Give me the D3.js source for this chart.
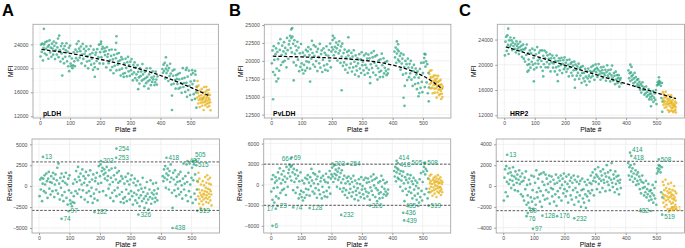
<!DOCTYPE html>
<html lang="en">
<head>
<meta charset="UTF-8">
<title>MFI by plate and residuals</title>
<script src="https://d3js.org/d3.v7.min.js"></script>
<style>
  body { margin: 0; background: #fff; }
  svg { font-family: "Liberation Sans", Arial, sans-serif; }
  .tick text { fill: #4d4d4d; font-size: 5.2px; font-family: "Liberation Sans", Arial, sans-serif; }
  .tick line { stroke: #333; stroke-width: 0.5; }
  .axis-title { font-size: 6.8px; fill: #000; }
  .flag { font-size: 6.4px; }
</style>
</head>
<body>
<svg id="fig" width="685" height="248"></svg>
<script>
// residuals are in thousands, one value per plate from plate 2 in steps of 2 (null = no plate)
const platesFrom = 2, plateStep = 2;

const residA = [
  -1.2, 0.8, -0.4, 1.0, -1.8, 0.3, 0.9, -0.6, 1.3, 0.2,
  -0.8, 1.5, 0.6, -1.4, 0.9, 1.7, -0.3, 0.5, -1.0, 1.2,
  0.4, -0.6, 1.6, 0.9, -1.3, 0.2, 1.4, -0.5, 0.7, 2.2,
  -0.9, 2.7, 0.3, -1.6, 1.0, -0.2, 1.5, -1.1, 0.6, -1.8,
  1.1, -0.7, 0.4, 1.6, -1.4, 0.2, -2.2, 0.9, -0.5, 1.3,
  -1.7, -2.1, -0.8, -2.4, -1.9, 0.3, -1.2, -2.0, 0.8, -0.6,
  1.8, 0.5, -0.9, 2.3, 1.1, -0.4, 0.7, 1.5, -1.3, 0.2,
  2.0, -0.5, 1.2, 0.4, -1.6, 0.9, 1.7, -0.8, 0.1, -1.9,
  1.3, -0.6, 0.5, 1.9, -1.2, -0.2, 0.8, -2.0, 1.4, -0.9,
  -1.5, 0.6, 1.0, -0.4, 1.6, -1.7, 0.3, 2.4, -0.7, 1.2,
  2.6, 0.4, 1.8, 2.2, -0.6, 1.4, 2.0, 0.9, 1.6, -1.1,
  2.3, 0.7, 1.2, -0.3, 1.9, 0.2, -1.4, 1.0, 2.1, -0.8,
  0.5, -1.8, 1.3, -0.5, 2.2, 0.8, -1.2, 1.6, -0.2, 0.4,
  1.8, -1.0, 0.6, -1.9, 1.2, -0.7, 0.9, -1.5, -2.0, 0.3,
  -1.3, 1.1, -0.4, -1.8, 0.6, 1.5, -0.9, 0.2, -1.6, 0.8,
  -0.6, 1.3, -1.2, -2.2, 0.4, -0.8, 0.9, -1.7, 0.1, -1.0,
  -2.0, 0.6, -0.5, -1.4, -2.4, 0.2, -1.1, -0.3, -1.8, 1.0,
  -0.7, -1.5, -2.6, -0.2, -1.2, -2.0, 0.5, -0.9, -1.6, -2.8,
  -0.4, -1.3, 0.7, -2.1, -0.8, -1.5, 0.3, -1.0, -0.5, -1.9,
  -1.4, 0.4, -0.9, -1.7, -0.3, null, null, null, null, null,
  null, null, 1.2, 0.6, 2.0, 1.0, 2.4, -0.2, 1.5, 0.8,
  2.1, 1.3, -0.4, 1.8, 0.5, 2.6, 1.0, -0.8, -2.6, 1.6,
  0.8, -0.5, 1.9, 0.2, -1.2, 1.1, 0.5, -0.3, 1.4, -1.0,
  0.6, 1.7, -0.7, 0.1, -1.5, 0.9, 2.7, -0.4, 0.3, 1.2,
  -1.1, 2.6, 0.5, -1.8, 1.6, -0.6, 2.7, 0.2, -1.3, 1.0,
  2.2, -2.0, 0.7, 2.6, -0.9, 1.4, -1.6, 2.5, -0.4, 0.6
];
const residB = [
  -1.0, 0.8, -2.2, 1.4, -0.5, -2.6, 0.3, 1.1, -1.7, 0.6,
  -0.4, 1.8, -2.0, 0.9, 2.4, -1.2, 0.2, 1.5, -0.8, 0.7,
  2.0, -0.6, 1.2, 0.4, -1.5, 2.6, 0.9, -0.3, 1.7, 2.2,
  2.9, 1.2, 2.6, 0.6, 2.8, 1.8, -0.8, 2.3, 0.4, 1.5,
  -1.2, 0.9, 2.1, -0.4, 1.3, -2.0, 0.5, -1.4, 1.8, -0.9,
  -1.8, 0.6, -2.3, -1.1, 0.2, -1.9, 1.0, -0.6, -1.5, 0.8,
  1.4, -0.7, 0.3, -1.6, 1.1, -0.2, 2.3, 0.6, -1.0, 1.7,
  0.2, -1.3, 1.5, -0.5, 0.8, -1.9, 1.2, 0.1, -0.8, 1.9,
  -1.4, 0.5, 1.0, -2.0, -0.3, 1.3, -1.1, 0.7, -1.7, 0.4,
  1.6, -0.9, -1.8, 0.3, 1.1, -0.4, 2.0, -1.3, 0.9, 1.5,
  2.5, 1.2, 0.4, 2.8, 1.6, 0.9, 2.2, 1.4, -0.3, 1.9,
  0.7, 2.4, 1.1, -0.6, 1.7, 0.3, 2.1, -1.0, 0.8, -0.5,
  1.3, -1.5, 0.2, -0.8, 1.0, -1.9, 0.5, 1.2, -1.2, 0.1,
  -0.6, 0.9, -1.7, 0.4, -1.1, 1.3, -0.3, -2.1, 0.6, -0.9,
  -1.5, 0.2, -0.5, -2.3, 0.8, -1.2, 0.1, -1.8, 1.1, -0.7,
  -0.2, -1.4, 0.7, -2.0, -0.6, 1.0, -1.0, 0.3, -1.7, 0.9,
  -1.2, 0.4, -2.2, -0.4, 1.2, -0.9, 0.6, -1.5, 1.5, -0.1,
  0.8, -1.8, -0.5, 1.0, -2.4, -0.8, 0.3, -1.3, -2.0, 0.5,
  -1.1, 1.3, -0.3, -1.9, 0.7, -1.4, -0.6, 0.2, -1.0, -1.6,
  0.4, -1.3, -0.7, null, null, null, null, null, null, null,
  null, null, 2.0, 1.2, 2.6, 0.5, 1.8, 2.4, 1.0, 2.2,
  0.8, 1.6, -0.3, 2.0, 0.6, 1.3, -0.9, 1.9, 0.2, -2.4,
  1.1, -0.6, 0.7, -1.5, 1.5, 0.3, -1.0, 0.9, -0.4, 1.4,
  -1.2, 0.5, -2.0, 0.1, 1.0, -0.7, -1.6, 0.6, -0.2, -2.2,
  0.3, -1.3, -0.5, -2.6, 0.8, -1.8, 1.7, -0.9, -2.3, 0.4,
  1.9, 2.6, -1.4, 1.5, 2.3, -0.6, 2.0, -2.0, 0.9, -1.1
];
const residC = [
  -1.4, 0.8, 1.6, -0.6, 1.9, 0.4, -1.0, 1.2, 0.2, 1.7,
  0.6, 1.3, -0.2, 1.0, 0.5, 1.8, 0.1, 0.9, -0.4, 1.4,
  0.7, 0.3, 1.1, -0.5, 0.6, 1.5, 0.2, 0.9, -0.8, 0.4,
  1.2, -1.0, 0.5, -1.4, 0.8, -0.3, 1.4, -1.8, 0.1, -0.9,
  -1.6, 0.6, -2.1, 0.2, -1.1, 1.0, -1.5, -0.4, -2.2, 0.9,
  -1.2, 0.3, -1.8, 1.5, -0.6, -1.1, 0.7, -0.2, 1.1, -1.5,
  -0.5, 1.2, -2.0, 0.4, -0.9, 1.3, 0.1, -1.3, 1.1, -0.4,
  0.7, -1.2, 0.2, -0.6, 1.0, -1.7, 0.4, -0.2, 0.9, -1.0,
  -0.3, 0.6, -1.5, 0.2, -0.8, 1.1, -1.9, 0.3, -0.5, 0.8,
  -1.1, 0.5, -0.2, 1.0, -1.4, 0.1, 0.7, -0.7, 1.2, -0.3,
  0.4, -1.0, 0.9, -0.5, 0.2, -1.6, 1.1, -0.1, 0.5, -0.9,
  0.8, -1.3, 0.3, -0.4, 1.0, -1.8, 0.6, -0.2, -1.1, 0.4,
  -0.6, 0.9, -1.5, 0.2, -0.9, 0.5, -2.0, -0.4, 0.7, -1.2,
  -0.3, -1.6, 0.4, -0.8, -2.1, 0.1, -1.0, 0.6, -0.5, -1.4,
  0.3, -0.7, 1.0, 0.2, -0.4, 1.3, 0.5, -0.9, 0.8, 1.6,
  0.4, 1.1, -0.3, 0.9, 1.8, 0.2, 0.7, -0.6, 1.4, 0.5,
  1.0, -0.2, 1.6, 0.6, 0.3, 1.2, -0.5, 0.9, 2.0, 0.4,
  1.3, 0.1, 0.8, -0.4, 1.5, 0.6, 2.2, 0.3, -0.1, 1.1,
  0.7, -0.6, 1.4, 0.2, 0.9, -0.3, 0.5, 1.0, -0.8, 0.3,
  0.6, -0.2, null, null, null, null, null, null, null, null,
  null, null, null, 2.2, 1.0, 1.8, 0.6, 2.0, 1.4, 0.9,
  1.7, 0.4, 1.2, 2.1, 0.7, 1.5, 0.1, 1.1, 0.5, 1.3,
  0.2, 0.9, -0.3, 0.6, -0.7, 0.4, 1.0, -0.2, 0.3, -0.9,
  -0.1, -0.6, 0.5, -1.1, -0.3, -0.8, 0.2, -1.4, -0.5, -1.0,
  -0.4, -1.3, -0.7, 0.1, -1.6, -0.9, -0.2, -1.2, 0.4, -1.8,
  1.2, 1.7, 1.4, 2.0, 1.6, 1.9, 1.3, -0.6, 1.8, -1.1
];

// last plates (yellow group): [plate, residual in thousands]
const lateA = [[521,0.5],[522,-1.2],[523,1.6],[524,-0.4],[525,-2.1],[526,0.9],[527,-1.5],[528,-0.8],[530,-2.6],[531,0.2],[532,-1.1],[533,-1.8],[535,-0.5],[536,-1.3],[537,0.6],[538,-2.2],[539,-0.9],[540,-1.6],[541,0.1],[542,-1.0],[543,-2.8],[544,-0.6],[545,1.1],[546,-1.4],[547,-0.2],[548,-1.9],[549,0.4],[550,-1.1],[551,-0.7],[552,1.3],[553,-1.5],[554,-0.3],[555,0.8],[556,-2.0],[557,-0.9],[558,0.3],[559,-1.3],[560,-0.4],[561,1.0],[562,-1.7],[563,-0.6],[564,0.2],[565,-1.0],[566,-2.3]];
const lateB = [[521,0.8],[522,-0.6],[523,1.3],[524,0.2],[525,-1.1],[526,0.5],[527,-0.3],[528,1.5],[530,-0.9],[531,0.1],[532,-1.6],[533,0.7],[535,-0.4],[536,1.0],[537,-0.8],[538,0.3],[539,-1.3],[540,0.6],[541,-0.1],[542,1.2],[543,-0.6],[544,0.4],[545,-1.8],[546,0.9],[547,-0.2],[548,-1.0],[549,0.5],[550,1.4],[551,-0.5],[552,0.2],[553,-1.2],[554,0.8],[555,-0.3],[556,0.3],[557,-0.9],[558,1.1],[559,-0.4],[560,-1.5],[561,0.6],[562,-0.7],[563,0.1],[564,-1.1],[565,0.4]];
const lateC = [[521,0.4],[522,-0.8],[523,-1.6],[524,0.1],[525,-1.2],[526,-0.4],[527,-2.0],[528,-0.9],[530,0.6],[531,-1.4],[532,-0.2],[533,-1.8],[535,-1.0],[536,-0.5],[537,-2.2],[538,-1.3],[539,0.2],[540,-0.7],[542,-1.1],[543,-0.3],[544,-1.5],[545,-2.2],[546,-0.6],[547,-1.0],[548,0.3],[549,-1.7],[550,-0.8],[551,-2.1],[552,-1.2],[553,-0.4],[554,-1.6],[555,-2.3],[556,-0.9],[557,-1.3],[558,0.0],[559,-2.0],[560,-1.1],[561,-0.5],[562,-1.8],[563,-1.4],[564,-2.2],[565,-0.7]];

// plates flagged beyond the cut-off: [plate, residual in thousands, label]
const flaggedA = [[13,3.5,"13"],[74,-3.9,"74"],[97,-3.0,"97"],[182,-3.1,"182"],[203,3.0,"203"],[253,3.4,"253"],[254,4.5,"254"],[326,-3.4,"326"],[418,3.4,"418"],[438,-5.0,"438"],[487,3.0,"487"],[505,3.0,"505"],[515,3.1,"515"],[519,-2.95,"519"]];
const flaggedB = [[6,-6.0,"6"],[17,-3.5,"17"],[23,-3.1,"23"],[66,3.8,"66"],[69,4.0,"69"],[74,-3.3,"74"],[128,-3.4,"128"],[203,3.1,"203"],[232,-4.4,"232"],[254,3.05,"254"],[326,-3.05,"326"],[414,3.5,"414"],[418,3.15,"418"],[436,-4.1,"436"],[439,-5.2,"439"],[485,-3.1,"485"],[505,3.2,"505"],[508,3.2,"508"],[519,-3.05,"519"]];
const flaggedC = [[13,3.0,"13"],[76,-2.9,"76"],[80,-2.6,"80"],[97,-4.1,"97"],[128,-2.85,"128"],[176,-2.9,"176"],[232,-3.1,"232"],[414,3.2,"414"],[418,2.9,"418"],[482,-2.4,"482"],[508,2.55,"508"],[519,-2.75,"519"]];
const flaggedLateC = [[541,-2.45,"541"]];

// fitted MFI trend (dashed line): [plate, MFI]
const fitA = [[5,23150],[100,22500],[200,21500],[300,20300],[400,18800],[500,16800],[564,15350]];
const fitB = [[5,20650],[100,20550],[200,20400],[300,20100],[380,19600],[450,18800],[500,17900],[535,17000],[564,16050]];
const fitC = [[5,22850],[280,18750],[564,14650]];

// residual cut-offs (dashed lines)
const cutoffA = 2900, cutoffB = 3000, cutoffC = 2370;

const plateTicks = [0, 100, 200, 300, 400, 500];
const mfiTicksA = [12000, 16000, 20000, 24000];
const mfiTicksB = [12500, 15000, 17500, 20000, 22500, 25000];
const mfiTicksC = [12000, 16000, 20000, 24000];
const residTicksA = [-5000, -2500, 0, 2500, 5000];
const residTicksB = [-6000, -3000, 0, 3000, 6000];
const residTicksC = [-4000, -2000, 0, 2000, 4000];

// label repel nudges in px: [dx, dy, anchor]
const labelNudge = {
  A: {"505": [0, -6], "515": [0, 5]},
  B: {"66": [0, 0, "end"], "17": [0, 0, "end"], "414": [0, -2.5], "418": [0, 2], "505": [0, 0, "end"], "485": [0, 0, "end"]},
  C: {"414": [0, -2.5], "418": [0, 2], "76": [0, 2.5], "80": [0, -2], "482": [0, 0, "end"], "519": [0, 2.5], "541": [0, -2.5]}
};

const green = "#1B9E77", yellow = "#E6AB02";
const plateDomain = [-23, 592];
const topY = [24.3, 118], botY = [139, 233];

const panels = [
  {letter: "A", letterX: 2, name: "pLDH", namePlate: 10, resid: residA, late: lateA, flagged: flaggedA, flaggedLate: [],
   fit: fitA, cutoff: cutoffA, mfiDomain: [11700, 27350], mfiTicks: mfiTicksA, residDomain: [-5600, 5640], residTicks: residTicksA,
   topX: [33, 218.4], botX: [32, 219.5], titleX: 11},
  {letter: "B", letterX: 229, name: "PvLDH", namePlate: 6, resid: residB, late: lateB, flagged: flaggedB, flaggedLate: [],
   fit: fitB, cutoff: cutoffB, mfiDomain: [12035, 25100], mfiTicks: mfiTicksB, residDomain: [-7040, 6670], residTicks: residTicksB,
   topX: [264.3, 450.9], botX: [263.7, 450.7], titleX: 241},
  {letter: "C", letterX: 459, name: "HRP2", namePlate: 19, resid: residC, late: lateC, flagged: flaggedC, flaggedLate: flaggedLateC,
   fit: fitC, cutoff: cutoffC, mfiDomain: [11570, 26420], mfiTicks: mfiTicksC, residDomain: [-4510, 4510], residTicks: residTicksC,
   topX: [497.3, 684.5], botX: [496.2, 684.5], titleX: 474}
];

const svg = d3.select("#fig");

function minorBreaks(ticks, domain) {
  const step = ticks[1] - ticks[0], out = [];
  for (let v = ticks[0] - step / 2; v <= domain[1]; v += step) if (v >= domain[0]) out.push(v);
  return out;
}

function frame(x, y, yTicks, yTitle, titleX) {
  const [l, r] = x.range(), [b, t] = y.range();
  const g = svg.append("g");
  g.selectAll(null).data(minorBreaks(plateTicks, x.domain())).join("line")
    .attr("x1", d => x(d)).attr("x2", d => x(d)).attr("y1", t).attr("y2", b)
    .attr("stroke", "#f4f4f4").attr("stroke-width", 0.4);
  g.selectAll(null).data(minorBreaks(yTicks, y.domain())).join("line")
    .attr("y1", d => y(d)).attr("y2", d => y(d)).attr("x1", l).attr("x2", r)
    .attr("stroke", "#f4f4f4").attr("stroke-width", 0.4);
  g.selectAll(null).data(plateTicks).join("line")
    .attr("x1", d => x(d)).attr("x2", d => x(d)).attr("y1", t).attr("y2", b)
    .attr("stroke", "#ebebeb").attr("stroke-width", 0.7);
  g.selectAll(null).data(yTicks).join("line")
    .attr("y1", d => y(d)).attr("y2", d => y(d)).attr("x1", l).attr("x2", r)
    .attr("stroke", "#ebebeb").attr("stroke-width", 0.7);

  svg.append("g").attr("transform", `translate(0,${b})`)
    .call(d3.axisBottom(x).tickValues(plateTicks).tickSize(2).tickPadding(1).tickFormat(d3.format("d")))
    .call(a => a.select(".domain").remove());
  svg.append("g").attr("transform", `translate(${l},0)`)
    .call(d3.axisLeft(y).tickValues(yTicks).tickSize(2).tickPadding(2.5).tickFormat(d3.format("d")))
    .call(a => a.select(".domain").remove());

  svg.append("text").attr("class", "axis-title")
    .attr("x", (l + r) / 2).attr("y", b + 13.5).attr("text-anchor", "middle").text("Plate #");
  svg.append("text").attr("class", "axis-title")
    .attr("transform", `translate(${titleX + 2.4},${(t + b) / 2}) rotate(-90)`)
    .attr("text-anchor", "middle").text(yTitle);
}

function border(x, y) {
  const [l, r] = x.range(), [b, t] = y.range();
  svg.append("rect").attr("x", l).attr("y", t).attr("width", r - l).attr("height", b - t)
    .attr("fill", "none").attr("stroke", "#a8a8a8").attr("stroke-width", 0.9);
}

panels.forEach(p => {
  const fitAt = d3.scaleLinear().domain(p.fit.map(d => d[0])).range(p.fit.map(d => d[1]));
  const main = p.resid.map((v, i) => ({plate: platesFrom + i * plateStep, res: v}))
    .filter(d => d.res !== null)
    .concat(p.flagged.map(d => ({plate: d[0], res: d[1]})))
    .map(d => ({plate: d.plate, res: d.res * 1000}));
  const late = p.late.concat(p.flaggedLate).map(d => ({plate: d[0], res: d[1] * 1000}));

  // top: MFI = fitted trend + residual
  const xt = d3.scaleLinear().domain(plateDomain).range(p.topX);
  const yt = d3.scaleLinear().domain(p.mfiDomain).range([topY[1], topY[0]]);
  frame(xt, yt, p.mfiTicks, "MFI", p.titleX);
  const gt = svg.append("g");
  gt.selectAll(null).data(main).join("circle")
    .attr("cx", d => xt(d.plate)).attr("cy", d => yt(fitAt(d.plate) + d.res)).attr("r", 1.35)
    .attr("fill", green).attr("fill-opacity", 0.68);
  gt.selectAll(null).data(late).join("circle")
    .attr("cx", d => xt(d.plate)).attr("cy", d => yt(fitAt(d.plate) + d.res)).attr("r", 1.3)
    .attr("fill", yellow).attr("fill-opacity", 0.7);
  svg.append("path").datum(p.fit)
    .attr("d", d3.line().x(d => xt(d[0])).y(d => yt(d[1])).curve(d3.curveMonotoneX))
    .attr("fill", "none").attr("stroke", "#000").attr("stroke-width", 1.3).attr("stroke-dasharray", "3.5,2");
  svg.append("text").attr("x", xt(p.namePlate)).attr("y", topY[1] - 2)
    .attr("font-size", 6.8).attr("font-weight", "bold").attr("fill", "#000").text(p.name);
  border(xt, yt);

  // bottom: residuals
  const xb = d3.scaleLinear().domain(plateDomain).range(p.botX);
  const yb = d3.scaleLinear().domain(p.residDomain).range([botY[1], botY[0]]);
  frame(xb, yb, p.residTicks, "Residuals", p.titleX - 1.5);
  const gb = svg.append("g");
  gb.selectAll(null).data(main).join("circle")
    .attr("cx", d => xb(d.plate)).attr("cy", d => yb(d.res)).attr("r", 1.35)
    .attr("fill", green).attr("fill-opacity", 0.68);
  gb.selectAll(null).data(late).join("circle")
    .attr("cx", d => xb(d.plate)).attr("cy", d => yb(d.res)).attr("r", 1.3)
    .attr("fill", yellow).attr("fill-opacity", 0.7);
  gb.selectAll(null).data([p.cutoff, -p.cutoff]).join("line")
    .attr("x1", p.botX[0]).attr("x2", p.botX[1]).attr("y1", d => yb(d)).attr("y2", d => yb(d))
    .attr("stroke", "#444").attr("stroke-width", 0.9).attr("stroke-dasharray", "2.5,1.6");
  const nudge = labelNudge[p.letter];
  gb.selectAll(null).data(p.flagged.map(d => [d, green]).concat(p.flaggedLate.map(d => [d, yellow]))).join("text")
    .attr("class", "flag")
    .each(function (d) {
      const n = nudge[d[0][2]] || [0, 0, "start"];
      const end = n[2] === "end";
      d3.select(this)
        .attr("x", xb(d[0][0]) + (end ? -2 : 2) + n[0])
        .attr("y", yb(d[0][1] * 1000) + n[1])
        .attr("text-anchor", end ? "end" : "start");
    })
    .attr("dy", "0.35em")
    .attr("fill", d => d[1]).text(d => d[0][2]);
  border(xb, yb);

  svg.append("text").attr("x", p.letterX).attr("y", 15.5)
    .attr("font-size", 16.5).attr("font-weight", "bold").attr("fill", "#000").text(p.letter);
});
</script>
</body>
</html>
